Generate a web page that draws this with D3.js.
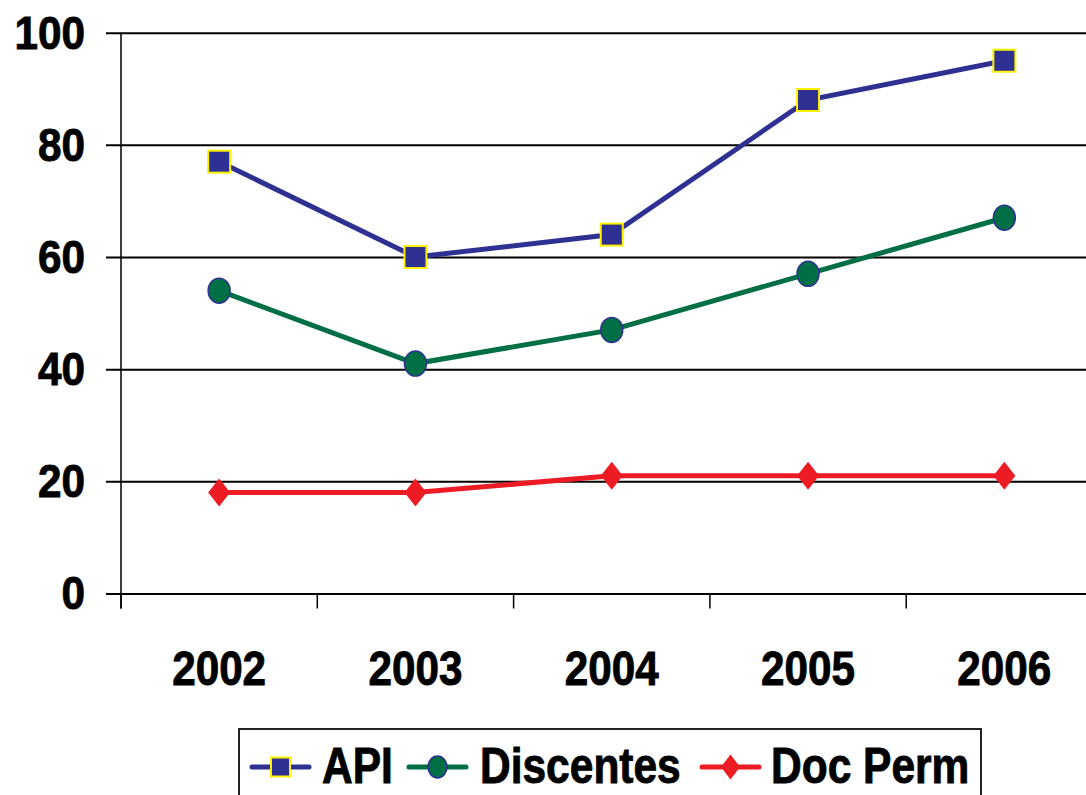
<!DOCTYPE html>
<html>
<head>
<meta charset="utf-8">
<script src="https://cdn.jsdelivr.net/npm/d3@7"></script>
<style>
  html, body { margin: 0; padding: 0; background: #fff; }
  svg { display: block; font-family: "Liberation Sans", Arial, sans-serif; font-weight: bold; }
  text { stroke: #000; stroke-width: 0.9px; }
</style>
</head>
<body>
<svg id="chart" width="1086" height="795"></svg>
<script>
// Data
const years = ["2002", "2003", "2004", "2005", "2006"];
const apiValues = [77, 60, 64, 88, 95];
const discentesValues = [54, 41, 47, 57, 67];
const docPermValues = [18, 18, 21, 21, 21];
const yTicks = [0, 20, 40, 60, 80, 100];
const seriesNames = ["API", "Discentes", "Doc Perm"];

const series = [
    { name: seriesNames[0], values: apiValues, color: "#2E3192", shape: "square" },
    { name: seriesNames[1], values: discentesValues, color: "#006F45", shape: "circle" },
    { name: seriesNames[2], values: docPermValues, color: "#ED1C24", shape: "diamond" }
];

const svg = d3.select("#chart");
const plotLeft = 121, plotRight = 1102.5, plotTop = 32.7, plotBottom = 593.5;

const x = d3.scaleBand().domain(years).range([plotLeft, plotRight]);
const y = d3.scaleLinear().domain([0, 100]).range([plotBottom, plotTop]);
const cx = d => x(d) + x.bandwidth() / 2;

// Gridlines (with the little stub left of the axis)
svg.append("g")
    .attr("transform", `translate(${plotLeft},0)`)
    .call(d3.axisLeft(y).tickValues(yTicks).tickSize(15).tickFormat(""))
    .call(g => g.select(".domain").remove())
    .call(g => g.selectAll(".tick line")
        .attr("x1", plotRight - plotLeft + 20)
        .attr("stroke", "#000")
        .attr("stroke-width", 2));

// Y tick labels
svg.append("g")
    .selectAll("text")
    .data(yTicks)
    .join("text")
    .attr("x", 85)
    .attr("y", d => y(d) + 16)
    .attr("text-anchor", "end")
    .attr("font-size", 46)
    .attr("transform", "translate(85,0) scale(0.92,1) translate(-85,0)")
    .text(d => d);

// Y axis line
svg.append("line")
    .attr("x1", plotLeft).attr("x2", plotLeft)
    .attr("y1", plotTop).attr("y2", plotBottom + 15)
    .attr("stroke", "#000").attr("stroke-width", 1.5);

// X axis boundary ticks
svg.append("g")
    .selectAll("line")
    .data(years)
    .join("line")
    .attr("x1", d => x(d)).attr("x2", d => x(d))
    .attr("y1", plotBottom).attr("y2", plotBottom + 15)
    .attr("stroke", "#000").attr("stroke-width", 1.5);

// X labels
svg.append("g")
    .selectAll("text")
    .data(years)
    .join("text")
    .attr("x", d => cx(d))
    .attr("y", 685)
    .attr("text-anchor", "middle")
    .attr("font-size", 48)
    .attr("transform", d => `translate(${cx(d)},0) scale(0.88,1) translate(${-cx(d)},0)`)
    .text(d => d);

function drawMarker(g, shape, color, size) {
    if (shape === "square") {
        g.append("rect")
            .attr("x", -size / 2).attr("y", -size / 2)
            .attr("width", size).attr("height", size)
            .attr("fill", color).attr("stroke", "#FFF200").attr("stroke-width", 2);
    } else if (shape === "circle") {
        g.append("ellipse")
            .attr("rx", size / 2).attr("ry", size / 2 + 1.5)
            .attr("fill", color).attr("stroke", "#2E3192").attr("stroke-width", 1.5);
    } else {
        g.append("path")
            .attr("d", `M0,${-size / 2 - 3} L${size / 2},0 L0,${size / 2 + 3} L${-size / 2},0 Z`)
            .attr("fill", color);
    }
}

const line = d3.line()
    .x((d, i) => cx(years[i]))
    .y(d => y(d));

series.forEach(s => {
    svg.append("path")
        .datum(s.values)
        .attr("fill", "none")
        .attr("stroke", s.color)
        .attr("stroke-width", 5)
        .attr("d", line);
    s.values.forEach((v, i) => {
        const g = svg.append("g")
            .attr("transform", `translate(${cx(years[i])},${y(v)})`);
        drawMarker(g, s.shape, s.color, 22);
    });
});

// Legend
const legend = svg.append("g");
legend.append("rect")
    .attr("x", 239).attr("y", 729)
    .attr("width", 742).attr("height", 80)
    .attr("fill", "#fff").attr("stroke", "#222").attr("stroke-width", 2);

const legendItems = [
    { s: series[0], lx: 252, tx: 322 },
    { s: series[1], lx: 409, tx: 480 },
    { s: series[2], lx: 702, tx: 771 }
];
legendItems.forEach(item => {
    const cy = 767;
    legend.append("line")
        .attr("x1", item.lx).attr("x2", item.lx + 57)
        .attr("y1", cy).attr("y2", cy)
        .attr("stroke", item.s.color).attr("stroke-width", 5)
        .attr("stroke-linecap", "round");
    const g = legend.append("g").attr("transform", `translate(${item.lx + 28.5},${cy})`);
    drawMarker(g, item.s.shape, item.s.color, 19);
    legend.append("text")
        .attr("x", item.tx).attr("y", 783)
        .attr("font-size", 50)
        .attr("transform", `translate(${item.tx},0) scale(0.85,1) translate(${-item.tx},0)`)
        .text(item.s.name);
});
</script>
</body>
</html>
